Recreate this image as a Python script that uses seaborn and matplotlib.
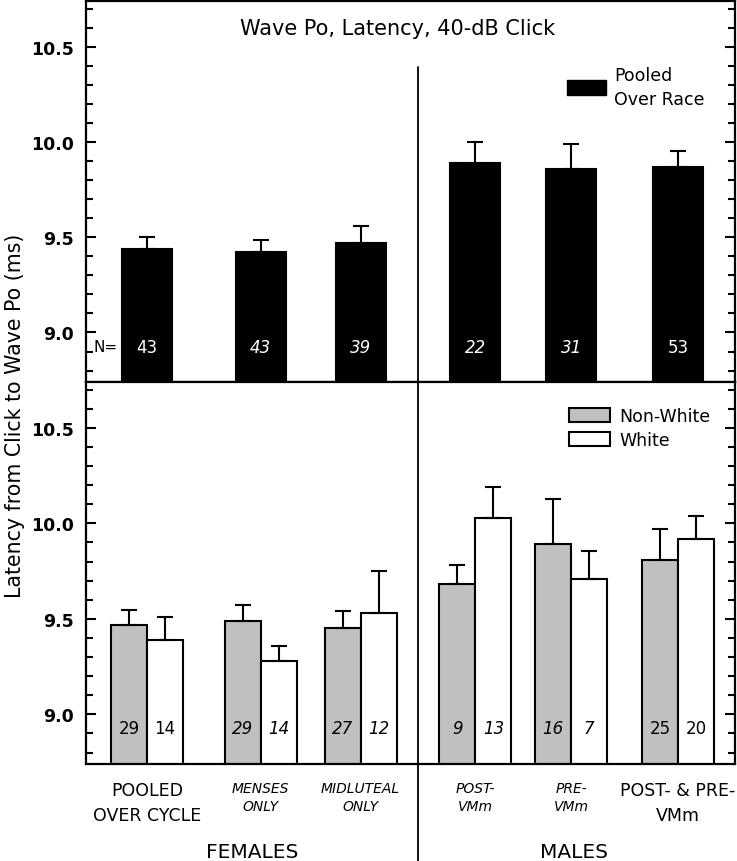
import numpy as np
import pandas as pd
import matplotlib.pyplot as plt
import matplotlib.transforms as mtransforms
import seaborn as sns
from matplotlib.patches import Patch
from matplotlib.ticker import MultipleLocator, FormatStrFormatter

# categories along x (positions follow the uneven spacing of the original)
groups = ["POOLED\nOVER CYCLE", "MENSES\nONLY", "MIDLUTEAL\nONLY",
          "POST-\nVMm", "PRE-\nVMm", "POST- & PRE-\nVMm"]
group_pos = [0.61, 1.75, 2.75, 3.9, 4.86, 5.93]
italic_group = [False, True, True, True, True, False]

# top panel: pooled over race
pooled_mean = [9.44, 9.42, 9.47, 9.89, 9.86, 9.87]
pooled_sem = [0.06, 0.065, 0.09, 0.11, 0.13, 0.085]
pooled_n = [43, 43, 39, 22, 31, 53]

# bottom panel: by race
nonwhite_mean = [9.47, 9.49, 9.45, 9.68, 9.89, 9.81]
nonwhite_sem = [0.074, 0.085, 0.09, 0.10, 0.24, 0.16]
nonwhite_n = [29, 29, 27, 9, 16, 25]

white_mean = [9.39, 9.28, 9.53, 10.03, 9.71, 9.92]
white_sem = [0.12, 0.08, 0.22, 0.16, 0.145, 0.12]
white_n = [14, 14, 12, 13, 7, 20]

sns.set_style("ticks")
plt.rcParams['font.family'] = ['DejaVu Sans']
plt.rcParams.update({"text.color": "black", "axes.labelcolor": "black",
                     "xtick.color": "black", "ytick.color": "black",
                     "axes.edgecolor": "black"})

fig = plt.figure(figsize=(7.37, 8.62), dpi=100)
ax1 = fig.add_axes([0.1167, 0.5557, 0.8806, 0.442])
ax2 = fig.add_axes([0.1167, 0.1125, 0.8806, 0.4432])

step = np.diff(np.sort(group_pos)).min()
top_w = 0.5
bot_w = 0.72

top = pd.DataFrame({"pos": group_pos, "latency": pooled_mean})
sns.barplot(data=top, x="pos", y="latency", native_scale=True, color="black",
            edgecolor="black", linewidth=1.5, width=top_w / step,
            errorbar=None, saturation=1, ax=ax1)

bot = pd.DataFrame({
    "pos": group_pos * 2,
    "latency": nonwhite_mean + white_mean,
    "race": ["Non-White"] * len(groups) + ["White"] * len(groups),
})
sns.barplot(data=bot, x="pos", y="latency", hue="race", native_scale=True,
            palette={"Non-White": "#c0c0c0", "White": "white"},
            edgecolor="black", linewidth=1.5, width=bot_w / step,
            errorbar=None, saturation=1, legend=False, ax=ax2)

pos = np.array(group_pos)
nw_x = pos - bot_w / 4
wh_x = pos + bot_w / 4
err_kw = dict(fmt="none", ecolor="black", elinewidth=1.5, capsize=6,
              capthick=1.5, zorder=3)
ax1.errorbar(pos, pooled_mean, yerr=[np.zeros(len(pos)), pooled_sem], **err_kw)
ax2.errorbar(nw_x, nonwhite_mean, yerr=[np.zeros(len(pos)), nonwhite_sem], **err_kw)
ax2.errorbar(wh_x, white_mean, yerr=[np.zeros(len(pos)), white_sem], **err_kw)

for ax in (ax1, ax2):
    ax.set_xlim(0, 6.5)
    ax.set_ylim(8.74, 10.74)
    ax.set_xlabel("")
    ax.set_ylabel("")
    ax.yaxis.set_major_locator(MultipleLocator(0.5))
    ax.yaxis.set_minor_locator(MultipleLocator(0.1))
    ax.yaxis.set_major_formatter(FormatStrFormatter("%.1f"))
    ax.tick_params(axis="y", which="both", direction="in", left=True,
                   right=True, width=1.5, pad=9)
    ax.tick_params(axis="y", which="major", length=7, labelsize=12.5)
    ax.tick_params(axis="y", which="minor", length=5)
    for lbl in ax.get_yticklabels():
        lbl.set_fontweight("bold")
    for sp in ax.spines.values():
        sp.set_visible(True)
        sp.set_linewidth(1.6)
        sp.set_color("black")

ax1.set_xticks([])
ax2.set_xticks(group_pos, groups)
ax2.tick_params(axis="x", length=0, pad=12)
for lbl, it in zip(ax2.get_xticklabels(), italic_group):
    lbl.set_fontstyle("italic" if it else "normal")
    lbl.set_fontsize(10 if it else 12.5)
    lbl.set_linespacing(1.4 if it else 1.55)

# N labels
ax1.text(0.08, 8.925, "N=", ha="left", va="center", fontsize=11, color="black")
for x, n, it in zip(pos, pooled_n, italic_group):
    ax1.text(x, 8.925, str(n), ha="center", va="center", fontsize=12,
             color="white", fontstyle="italic" if it else "normal")
for x, n, it in zip(nw_x, nonwhite_n, italic_group):
    ax2.text(x, 8.93, str(n), ha="center", va="center", fontsize=12,
             fontstyle="italic" if it else "normal")
for x, n, it in zip(wh_x, white_n, italic_group):
    ax2.text(x, 8.93, str(n), ha="center", va="center", fontsize=12,
             fontstyle="italic" if it else "normal")

# divider between females and males
ax1.axvline(3.325, ymin=0, ymax=0.827, color="black", lw=1.3)
ax2.axvline(3.325, ymin=-0.254, ymax=1, color="black", lw=1.3, clip_on=False)

ax1.text(0.48, 0.929, "Wave Po, Latency, 40-dB Click", transform=ax1.transAxes,
         ha="center", va="center", fontsize=15)

trans = mtransforms.blended_transform_factory(ax2.transData, ax2.transAxes)
ax2.text(1.66, -0.23, "FEMALES", transform=trans, ha="center", va="center",
         fontsize=14.5)
ax2.text(4.89, -0.23, "MALES", transform=trans, ha="center", va="center",
         fontsize=14.5)

fig.text(15 / 737, 1 - 416 / 862, "Latency from Click to Wave Po (ms)",
         rotation=90, ha="center", va="center", fontsize=14.8)

leg1 = ax1.legend(handles=[Patch(facecolor="black", edgecolor="black",
                                 label="Pooled\nOver Race")],
                  loc="upper left", bbox_to_anchor=(0.741, 0.83), frameon=False,
                  fontsize=12.5, handlelength=2.25, handleheight=0.95,
                  handletextpad=0.45, borderpad=0, borderaxespad=0)
for t in leg1.get_texts():
    t.set_linespacing(1.45)
ax2.legend(handles=[Patch(facecolor="#c0c0c0", edgecolor="black", lw=1.5,
                          label="Non-White"),
                    Patch(facecolor="white", edgecolor="black", lw=1.5,
                          label="White")],
           loc="upper left", bbox_to_anchor=(0.744, 0.935), frameon=False,
           fontsize=12.5, handlelength=2.35, handleheight=0.92,
           handletextpad=0.55, labelspacing=0.35, borderpad=0, borderaxespad=0)

fig.savefig("out.png", dpi=100)
